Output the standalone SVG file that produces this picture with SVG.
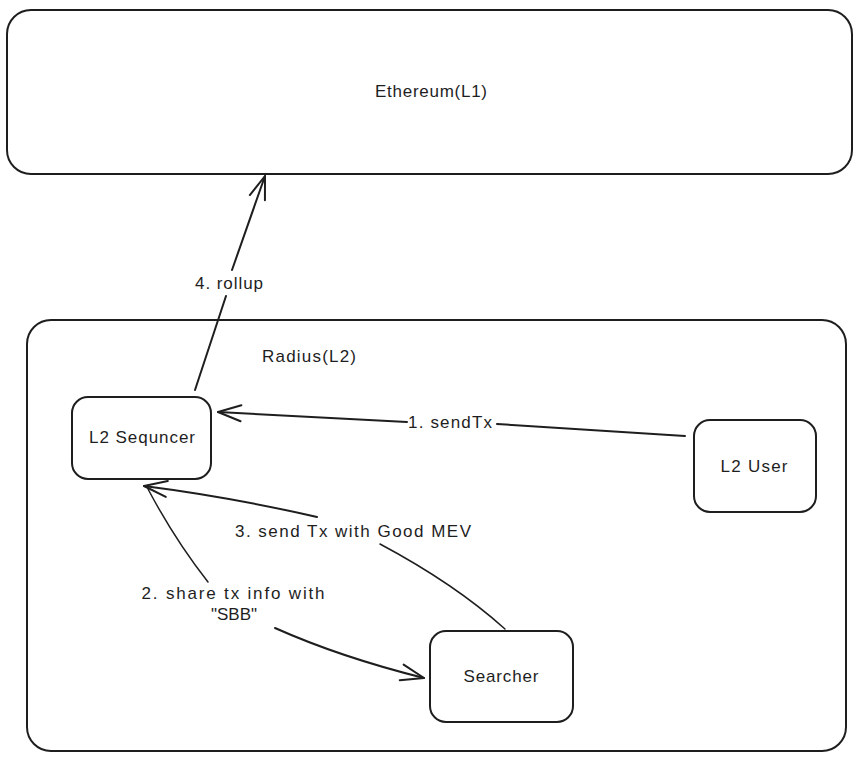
<svg xmlns="http://www.w3.org/2000/svg" width="861" height="761" viewBox="0 0 861 761">
<style>
.box{fill:none;stroke:#1e1e1e;stroke-width:2;stroke-linecap:round;stroke-linejoin:round}
.edge{fill:none;stroke:#1e1e1e;stroke-width:2;stroke-linecap:round;stroke-linejoin:round}
.thin{stroke-width:1.5}
text{font-family:"Liberation Sans","Noto Sans",sans-serif;font-size:17px;fill:#1e1e1e;text-anchor:middle}
</style>
<defs>
<marker id="arr" markerUnits="userSpaceOnUse" markerWidth="40" markerHeight="40" viewBox="-30 -20 40 40" refX="0" refY="0" orient="auto" overflow="visible">
<path d="M-23,-8 L0,0 L-23,8" fill="none" stroke="#1e1e1e" stroke-width="2" stroke-linecap="round" stroke-linejoin="round"/>
</marker>
</defs>
<rect width="861" height="761" fill="#ffffff"/>
<g id="ethereum">
<rect class="box" x="7" y="10" width="845" height="164" rx="24"/>
<text x="431" y="97" textLength="112" lengthAdjust="spacing">Ethereum(L1)</text>
</g>
<g id="radius">
<rect class="box" x="27" y="320" width="819" height="431" rx="24"/>
<text x="309" y="362" textLength="94" lengthAdjust="spacing">Radius(L2)</text>
</g>
<g id="sequencer">
<rect class="box" x="72" y="397" width="139" height="82" rx="16"/>
<text x="142" y="443" textLength="106" lengthAdjust="spacing">L2 Sequncer</text>
</g>
<g id="user">
<rect class="box" x="694" y="420" width="122" height="92" rx="16"/>
<text x="754" y="472" textLength="67" lengthAdjust="spacing">L2 User</text>
</g>
<g id="searcher">
<rect class="box" x="430" y="631" width="143" height="91" rx="16"/>
<text x="501" y="682" textLength="75" lengthAdjust="spacing">Searcher</text>
</g>
<g id="connectors">
<path class="edge" d="M685,436 L497,424"/>
<path class="edge" d="M407,422 L218,412" marker-end="url(#arr)"/>
<text x="450" y="428" textLength="84" lengthAdjust="spacing">1. sendTx</text>
<path class="edge" d="M195,390 L226,296"/>
<path class="edge" d="M232,270 L265,176" marker-end="url(#arr)"/>
<text x="229" y="289" textLength="68" lengthAdjust="spacing">4. rollup</text>
<path class="edge thin" d="M505,629 Q455,584 380,544"/>
<path class="edge" d="M317,517 Q230,497 144,486" marker-end="url(#arr)"/>
<text x="353" y="537" textLength="236" lengthAdjust="spacing">3. send Tx with Good MEV</text>
<path class="edge thin" d="M148,489 Q175,540 208,582"/>
<path class="edge" d="M275,628 Q340,657 424,678" marker-end="url(#arr)"/>
<text x="233" y="599" textLength="183" lengthAdjust="spacing">2. share tx info with</text>
<text x="234" y="620" textLength="46" lengthAdjust="spacing">"SBB"</text>
</g>
</svg>
